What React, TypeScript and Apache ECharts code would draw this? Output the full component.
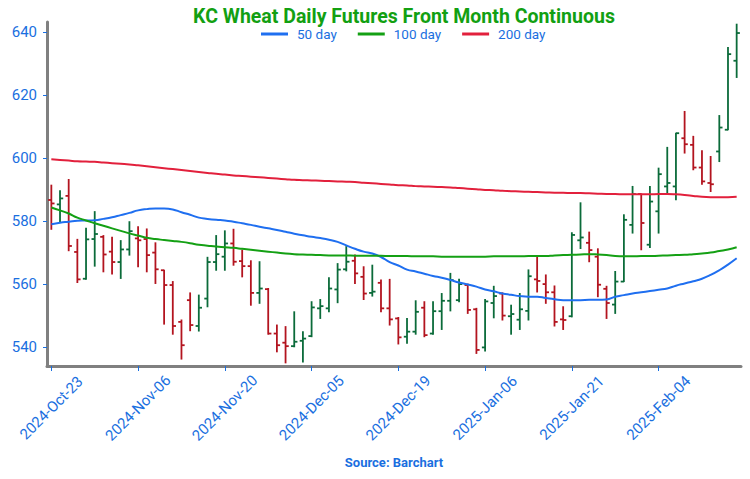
import React, { useEffect, useRef } from "react";
import * as echarts from "echarts";

const dates = [
  "2024-Oct-23", "2024-Oct-24", "2024-Oct-25", "2024-Oct-28", "2024-Oct-29", "2024-Oct-30", "2024-Oct-31",
  "2024-Nov-01", "2024-Nov-04", "2024-Nov-05", "2024-Nov-06", "2024-Nov-07", "2024-Nov-08", "2024-Nov-11",
  "2024-Nov-12", "2024-Nov-13", "2024-Nov-14", "2024-Nov-15", "2024-Nov-18", "2024-Nov-19", "2024-Nov-20",
  "2024-Nov-21", "2024-Nov-22", "2024-Nov-25", "2024-Nov-26", "2024-Nov-27", "2024-Nov-29", "2024-Dec-02",
  "2024-Dec-03", "2024-Dec-04", "2024-Dec-05", "2024-Dec-06", "2024-Dec-09", "2024-Dec-10", "2024-Dec-11",
  "2024-Dec-12", "2024-Dec-13", "2024-Dec-16", "2024-Dec-17", "2024-Dec-18", "2024-Dec-19", "2024-Dec-20",
  "2024-Dec-23", "2024-Dec-24", "2024-Dec-26", "2024-Dec-27", "2024-Dec-30", "2024-Dec-31", "2025-Jan-02",
  "2025-Jan-03", "2025-Jan-06", "2025-Jan-07", "2025-Jan-08", "2025-Jan-09", "2025-Jan-10", "2025-Jan-13",
  "2025-Jan-14", "2025-Jan-15", "2025-Jan-16", "2025-Jan-17", "2025-Jan-21", "2025-Jan-22", "2025-Jan-23",
  "2025-Jan-24", "2025-Jan-27", "2025-Jan-28", "2025-Jan-29", "2025-Jan-30", "2025-Jan-31", "2025-Feb-03",
  "2025-Feb-04", "2025-Feb-05", "2025-Feb-06", "2025-Feb-07", "2025-Feb-10", "2025-Feb-11", "2025-Feb-12",
  "2025-Feb-13", "2025-Feb-14", "2025-Feb-18",
];

const opens = [
  586.7, 585.3, 588.0, 570.2, 561.7, 574.3, 575.0, 570.3, 567.0, 571.0,
  574.5, 574.3, 570.0, 564.4, 559.7, 548.0, 554.9, 546.7, 555.4, 567.0,
  568.7, 572.9, 567.3, 565.7, 557.2, 558.4, 544.3, 541.4, 540.3, 542.0,
  543.5, 552.3, 552.3, 558.3, 564.7, 567.4, 562.3, 557.2, 560.4, 552.3,
  549.1, 543.3, 544.9, 552.5, 544.3, 551.4, 554.7, 554.9, 559.7, 552.0,
  539.9, 554.0, 557.0, 549.8, 548.7, 551.5, 561.5, 560.0, 557.4, 548.8,
  549.8, 573.9, 573.1, 568.7, 558.5, 553.5, 560.8, 578.8, 588.6, 572.5,
  583.1, 591.0, 591.0, 606.3, 604.2, 597.0, 592.1, 602.1, 609.0, 630.9,
];
const highs = [
  591.4, 589.6, 593.2, 574.2, 577.7, 583.0, 575.4, 574.9, 573.8, 579.8,
  578.2, 577.5, 573.1, 564.4, 560.8, 548.6, 557.2, 556.5, 568.5, 575.4,
  576.9, 577.4, 570.8, 567.4, 567.1, 558.6, 547.0, 546.5, 551.2, 544.9,
  554.4, 555.1, 562.0, 566.5, 571.9, 569.2, 565.5, 566.0, 561.3, 561.5,
  549.4, 549.1, 554.7, 554.4, 554.4, 557.0, 563.4, 561.5, 560.0, 552.3,
  555.1, 559.3, 557.2, 553.3, 557.0, 564.5, 568.5, 562.9, 559.4, 552.8,
  576.3, 585.8, 576.5, 571.2, 559.3, 564.0, 582.0, 591.0, 588.6, 591.0,
  596.8, 603.4, 607.9, 614.8, 606.9, 602.3, 600.5, 613.5, 635.1, 642.5,
];
const lows = [
  577.4, 579.6, 570.6, 560.5, 561.5, 565.7, 563.9, 563.2, 561.8, 569.2,
  565.5, 563.9, 560.2, 547.3, 544.1, 536.2, 545.2, 545.1, 552.8, 564.4,
  564.4, 566.0, 562.3, 553.3, 553.9, 544.1, 538.5, 535.0, 540.1, 535.3,
  543.3, 549.1, 551.2, 554.1, 564.2, 560.2, 555.1, 556.2, 551.2, 547.0,
  541.0, 541.2, 544.1, 543.3, 544.1, 545.6, 551.5, 554.4, 550.7, 538.0,
  538.8, 549.3, 548.6, 544.1, 545.6, 548.6, 557.5, 553.9, 546.7, 545.6,
  549.6, 571.3, 567.1, 556.0, 549.1, 550.7, 560.8, 576.2, 570.9, 571.6,
  576.2, 588.9, 586.8, 601.6, 596.3, 591.7, 589.4, 598.9, 609.0, 625.6,
];
const closes = [
  585.6, 587.2, 572.1, 561.5, 574.2, 575.9, 569.4, 567.0, 571.0, 576.8,
  573.9, 569.2, 564.7, 559.7, 546.7, 540.6, 547.0, 552.5, 567.0, 569.5,
  572.9, 567.1, 565.7, 557.2, 558.6, 544.3, 540.6, 540.3, 541.7, 542.7,
  552.6, 553.0, 558.6, 564.6, 567.1, 563.4, 557.0, 557.6, 552.3, 548.8,
  543.1, 544.9, 551.2, 543.8, 551.4, 554.7, 561.3, 560.0, 551.8, 539.1,
  554.5, 556.2, 550.0, 550.5, 552.0, 562.5, 561.0, 557.4, 548.0, 548.6,
  575.6, 574.8, 570.8, 559.8, 554.0, 560.8, 580.4, 588.6, 579.4, 586.2,
  594.9, 592.1, 607.9, 604.4, 597.0, 592.6, 591.7, 609.7, 633.0, 639.7,
];

const ma50 = [
  579.0, 579.5, 579.8, 580.1, 580.2, 580.3, 580.7, 581.2, 581.9, 582.6,
  583.4, 583.8, 584.0, 584.0, 583.7, 582.8, 582.0, 581.1, 580.7, 580.4,
  580.2, 579.8, 579.3, 578.8, 578.2, 577.7, 577.2, 576.6, 576.0, 575.5,
  575.0, 574.6, 574.1, 573.4, 572.3, 571.2, 570.3, 569.7, 568.6, 567.0,
  565.9, 564.6, 564.0, 563.3, 562.6, 562.0, 561.3, 560.5, 559.9, 559.2,
  558.3, 557.7, 557.0, 556.6, 556.2, 556.0, 556.0, 555.6, 555.2, 554.9,
  554.9, 554.9, 555.0, 555.0, 555.1, 556.0, 556.5, 557.0, 557.4, 557.8,
  558.2, 558.6, 559.5, 560.2, 560.9, 561.7, 562.9, 564.4, 566.2, 568.2,
];
const ma100 = [
  584.3, 583.4, 582.4, 581.1, 580.2, 579.3, 578.5, 577.7, 576.9, 576.1,
  575.4, 574.7, 574.3, 574.0, 573.7, 573.4, 573.0, 572.5, 572.2, 571.9,
  571.7, 571.5, 571.2, 570.9, 570.6, 570.3, 570.0, 569.7, 569.5, 569.4,
  569.3, 569.2, 569.1, 569.1, 569.1, 569.0, 569.0, 569.0, 569.0, 568.9,
  568.9, 568.9, 568.8, 568.8, 568.8, 568.7, 568.7, 568.7, 568.7, 568.7,
  568.7, 568.8, 568.8, 568.8, 568.8, 568.9, 568.9, 568.9, 569.1, 569.2,
  569.3, 569.4, 569.5, 569.4, 569.2, 568.9, 568.8, 568.8, 568.9, 568.9,
  569.0, 569.1, 569.2, 569.3, 569.5, 569.7, 570.0, 570.5, 571.0, 571.7,
];
const ma200 = [
  599.6, 599.4, 599.2, 599.0, 598.9, 598.8, 598.6, 598.4, 598.2, 598.0,
  597.7, 597.4, 597.1, 596.8, 596.5, 596.2, 595.9, 595.6, 595.3, 595.0,
  594.8, 594.5, 594.3, 594.1, 593.9, 593.7, 593.5, 593.3, 593.1, 593.0,
  592.9, 592.8, 592.7, 592.6, 592.5, 592.4, 592.2, 592.0, 591.8, 591.6,
  591.4, 591.3, 591.1, 591.0, 590.9, 590.8, 590.7, 590.5, 590.3, 590.1,
  589.9, 589.8, 589.6, 589.5, 589.4, 589.3, 589.2, 589.1, 589.0, 589.0,
  588.9, 588.9, 588.8, 588.7, 588.6, 588.6, 588.5, 588.5, 588.5, 588.5,
  588.6, 588.6, 588.5, 588.3, 588.0, 587.7, 587.6, 587.6, 587.6, 587.7,
];

const yTicks = [540, 560, 580, 600, 620, 640];

const UP = "#0b6b3a";
const DOWN = "#b3141f";
const BLUE_TXT = "#1a6fe0";
const NARROW = "'Liberation Sans Narrow', Roboto, sans-serif";

export default function App() {
  const ref = useRef<HTMLDivElement>(null);
  useEffect(() => {
    if (!ref.current) return;
    const chart = echarts.init(ref.current, undefined, { renderer: "svg" });
    const ohlc = dates.map((_, i) => [i, opens[i], highs[i], lows[i], closes[i]]);
    const option: any = {
      animation: false,
      backgroundColor: "#ffffff",
      title: [
        {
          text: "KC Wheat Daily Futures Front Month Continuous",
          left: 404,
          top: 6,
          padding: 0,
          textAlign: "center",
          textStyle: {
            color: "#12a012",
            fontFamily: NARROW,
            fontWeight: "bold",
            fontSize: 19.5,
          },
        },
        {
          text: "Source: Barchart",
          left: 394,
          top: 456,
          padding: 0,
          textAlign: "center",
          textStyle: {
            color: BLUE_TXT,
            fontFamily: NARROW,
            fontWeight: "bold",
            fontSize: 13,
          },
        },
      ],
      legend: {
        left: 261,
        top: 27,
        padding: 0,
        itemWidth: 27,
        itemHeight: 3,
        itemGap: 21,
        icon: "rect",
        data: ["50 day", "100 day", "200 day"],
        textStyle: {
          color: BLUE_TXT,
          fontFamily: NARROW,
          fontSize: 13.5,
          padding: [0, 0, 0, 4],
        },
      },
      grid: { left: 47, right: 9, top: 22, bottom: 113, containLabel: false },
      xAxis: {
        type: "category",
        data: dates,
        boundaryGap: true,
        axisLine: { show: true, lineStyle: { color: "#808080", width: 3 } },
        axisTick: {
          show: true,
          interval: 9,
          alignWithLabel: true,
          length: 5,
          lineStyle: { color: BLUE_TXT, width: 1 },
        },
        axisLabel: {
          interval: 9,
          rotate: 45,
          align: "center",
          verticalAlign: "middle",
          margin: 42,
          color: BLUE_TXT,
          fontFamily: "Roboto, sans-serif",
          fontSize: 15,
        },
        splitLine: { show: false },
      },
      yAxis: {
        type: "value",
        min: 534,
        max: 643.2,
        axisLine: { show: true, lineStyle: { color: "#808080", width: 3 } },
        axisTick: {
          show: true,
          length: 4,
          customValues: yTicks,
          lineStyle: { color: BLUE_TXT, width: 1 },
        },
        axisLabel: {
          customValues: yTicks,
          margin: 10,
          color: BLUE_TXT,
          fontFamily: "Roboto, sans-serif",
          fontSize: 15,
        },
        splitLine: { show: false },
      },
      series: [
        {
          type: "custom",
          name: "OHLC",
          data: ohlc,
          encode: { x: 0, y: [1, 2, 3, 4] },
          renderItem: (params: any, api: any) => {
            const x = api.value(0);
            const o = api.value(1);
            const h = api.value(2);
            const l = api.value(3);
            const c = api.value(4);
            const pH = api.coord([x, h]);
            const pL = api.coord([x, l]);
            const pO = api.coord([x, o]);
            const pC = api.coord([x, c]);
            const color = c >= o ? UP : DOWN;
            const t = 3.2;
            const st = { stroke: color, lineWidth: 1.8 };
            return {
              type: "group",
              children: [
                { type: "line", shape: { x1: pH[0], y1: pH[1] - 0.5, x2: pL[0], y2: pL[1] + 0.5 }, style: st },
                { type: "line", shape: { x1: pO[0] - t, y1: pO[1], x2: pO[0], y2: pO[1] }, style: st },
                { type: "line", shape: { x1: pC[0], y1: pC[1], x2: pC[0] + t, y2: pC[1] }, style: st },
              ],
            };
          },
        },
        {
          type: "line",
          name: "50 day",
          data: ma50,
          symbol: "none",
          smooth: true,
          lineStyle: { color: "#1f6ff0", width: 2 },
          itemStyle: { color: "#1f6ff0" },
        },
        {
          type: "line",
          name: "100 day",
          data: ma100,
          symbol: "none",
          smooth: true,
          lineStyle: { color: "#14a014", width: 2 },
          itemStyle: { color: "#14a014" },
        },
        {
          type: "line",
          name: "200 day",
          data: ma200,
          symbol: "none",
          smooth: true,
          lineStyle: { color: "#e2203c", width: 2 },
          itemStyle: { color: "#e2203c" },
        },
      ],
    };
    chart.setOption(option);
    return () => chart.dispose();
  }, []);
  return (
    <div
      ref={ref}
      style={{ position: "fixed", left: 0, top: 0, width: 750, height: 479, background: "#fff" }}
    />
  );
}
